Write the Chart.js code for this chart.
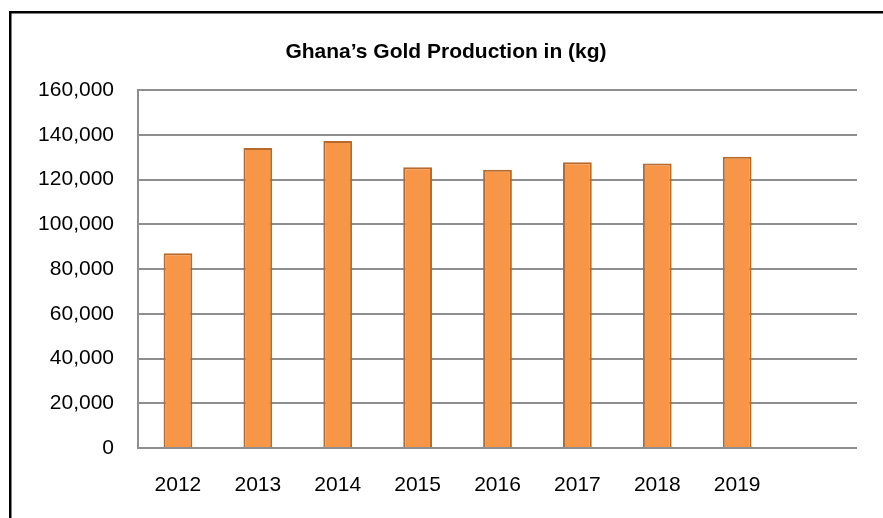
<!DOCTYPE html>
<html>
<head>
<meta charset="utf-8">
<script src="https://cdn.jsdelivr.net/npm/chart.js@4.4.0/dist/chart.umd.min.js"></script>
<style>
  html, body { margin: 0; padding: 0; background: #fff; }
  #wrap { position: relative; width: 883px; height: 518px; }
</style>
</head>
<body>
<div id="wrap"><canvas id="goldChart" width="883" height="518"></canvas></div>
<script>
  // categories (last slot is empty, as in the original sheet)
  var years = ["2012", "2013", "2014", "2015", "2016", "2017", "2018", "2019", ""];
  // gold output in kg
  var goldKg = [87100, 134200, 137300, 125600, 124400, 127800, 127200, 130200, null];
  var yTicks = [0, 20000, 40000, 60000, 80000, 100000, 120000, 140000, 160000];

  // black frame on the top and left edges
  var framePlugin = {
    id: "frame",
    beforeDraw: function(chart) {
      var ctx = chart.ctx;
      ctx.save();
      ctx.fillStyle = "#fff";
      ctx.fillRect(0, 0, chart.width, chart.height);
      ctx.fillStyle = "#000";
      ctx.fillRect(9, 11, chart.width - 9, 2.5);
      ctx.fillRect(9, 11, 2.5, chart.height - 11);
      ctx.restore();
    }
  };

  new Chart("goldChart", {
    type: "bar",
    data: {
      labels: years,
      datasets: [{
        data: goldKg,
        backgroundColor: "#F79646",
        borderColor: "#B86A2C",
        borderWidth: 2,
        barPercentage: 0.36,
        categoryPercentage: 1.0
      }]
    },
    options: {
      responsive: false,
      animation: false,
      layout: { padding: { left: 35, right: 26, top: 0, bottom: 0 } },
      plugins: {
        legend: { display: false },
        tooltip: { enabled: false },
        title: {
          display: true,
          text: "Ghana\u2019s Gold Production in (kg)",
          color: "#000",
          font: { family: "Liberation Sans, Arial, sans-serif", size: 21, weight: "bold" },
          padding: { top: 40, bottom: 25 }
        }
      },
      scales: {
        x: {
          grid: { display: false, drawTicks: false },
          border: { display: false },
          ticks: {
            color: "#000",
            padding: 25,
            font: { family: "Liberation Sans, Arial, sans-serif", size: 21 }
          },
          afterFit: function(scale) { scale.height = 70; }
        },
        y: {
          min: 0,
          max: 160000,
          afterBuildTicks: function(scale) {
            scale.ticks = yTicks.map(function(v) { return { value: v }; });
          },
          grid: { color: "#8E8E8E", lineWidth: 2, drawTicks: false },
          border: { display: true, color: "#8E8E8E", width: 2 },
          ticks: {
            color: "#000",
            padding: 24,
            font: { family: "Liberation Sans, Arial, sans-serif", size: 21 },
            callback: function(v) { return v.toLocaleString("en-US"); }
          },
          afterFit: function(scale) { scale.width = 103; }
        }
      }
    },
    plugins: [framePlugin]
  });
</script>
</body>
</html>
